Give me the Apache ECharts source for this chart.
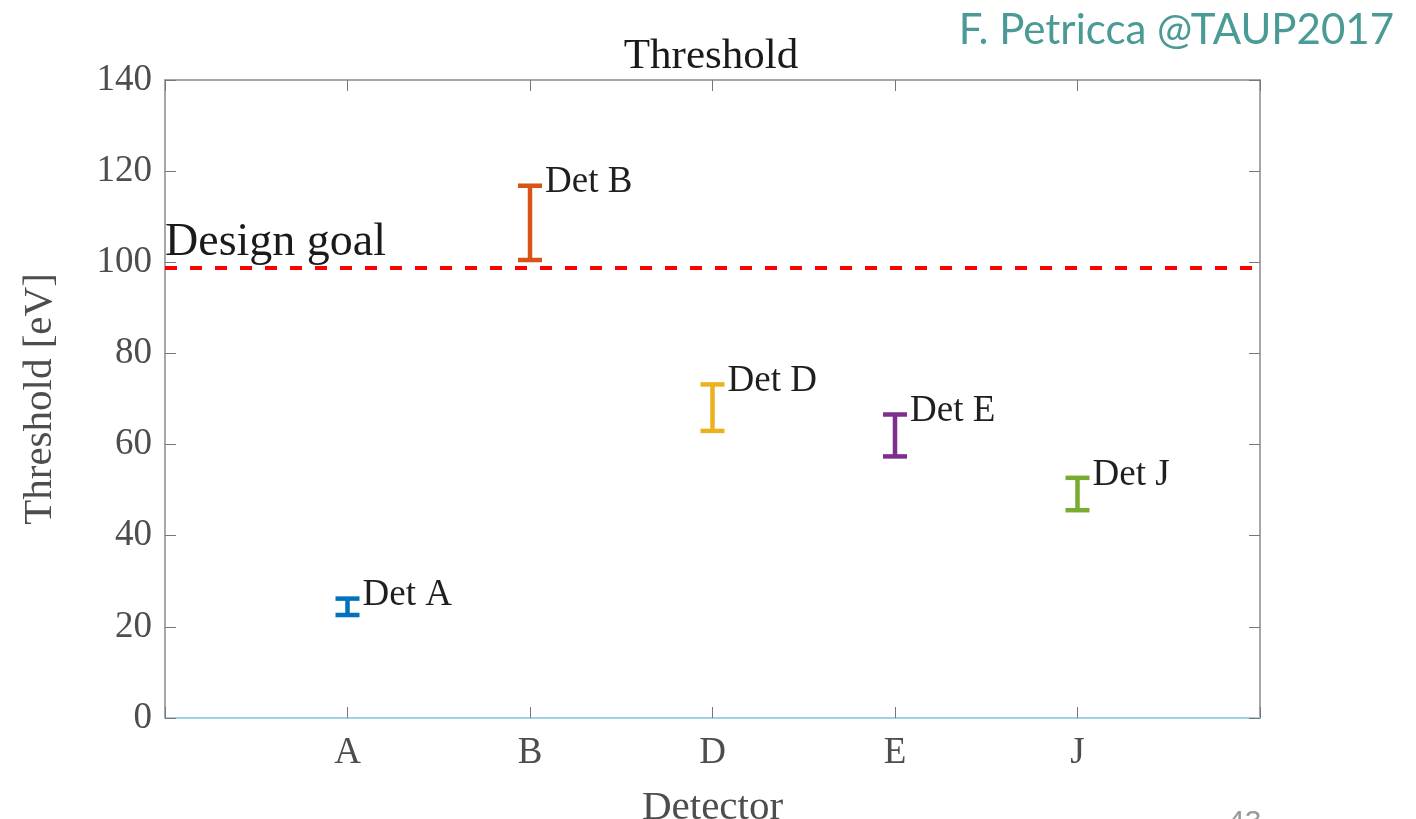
<!DOCTYPE html>
<html>
<head>
<meta charset="utf-8">
<script src="https://cdn.jsdelivr.net/npm/echarts@6/dist/echarts.min.js"></script>
<style>
  html, body { margin: 0; padding: 0; background: #fff; }
  #chart { width: 1416px; height: 819px; }
</style>
</head>
<body>
<div id="chart"></div>
<script>
// Detector threshold ranges (eV)
const detectors = ['A', 'B', 'D', 'E', 'J'];
const thresholdLow = [22.6, 100.5, 63.0, 57.4, 45.6];
const thresholdHigh = [26.2, 116.8, 73.2, 66.6, 52.7];
const detColors = ['#0072BD', '#D95319', '#EDB120', '#7E2F8E', '#77AC30'];
const designGoal = 98.7;
const yTicks = [0, 20, 40, 60, 80, 100, 120, 140];

const serif = '"Liberation Serif", "Times New Roman", serif';
const frame = '#8a8a8a';
const tickStyle = { color: '#777', width: 1 };

const chart = echarts.init(document.getElementById('chart'), null, { renderer: 'canvas' });

const barData = detectors.map((d, i) => [i + 1, thresholdLow[i], thresholdHigh[i], i]);

chart.setOption({
  animation: false,
  backgroundColor: '#ffffff',
  title: {
    text: 'Threshold',
    left: 706, top: 30, textAlign: 'center',
    textStyle: { fontFamily: serif, fontSize: 43, fontWeight: 'normal', color: '#1a1a1a' }
  },
  graphic: [
    {
      type: 'text', right: 22, top: 9,
      style: { text: 'F. Petricca @TAUP2017', font: '42px Lato, "Open Sans", sans-serif', fill: '#4a9a95' }
    },
    {
      type: 'text', left: 1228, top: 808,
      style: { text: '43', font: '30px "Liberation Sans", sans-serif', fill: '#9a9a9a' }
    }
  ],
  grid: { left: 165, top: 80, right: 156, bottom: 101, containLabel: false, outerBoundsMode: 'none' },
  xAxis: [
    {
      type: 'value', min: 0, max: 6, interval: 1, position: 'bottom',
      name: 'Detector', nameLocation: 'middle', nameGap: 70,
      nameTextStyle: { fontFamily: serif, fontSize: 41, color: '#4d4d4d' },
      axisLine: { show: true, onZero: false, lineStyle: { color: '#9dd2ea', width: 2 } },
      axisTick: { show: true, inside: true, length: 11, lineStyle: tickStyle },
      axisLabel: {
        margin: 17, fontFamily: serif, fontSize: 37, color: '#4d4d4d',
        formatter: v => (v >= 1 && v <= detectors.length) ? detectors[v - 1] : ''
      },
      splitLine: { show: false }
    },
    {
      type: 'value', min: 0, max: 6, interval: 1, position: 'top',
      axisLine: { show: true, onZero: false, lineStyle: { color: frame, width: 1.5 } },
      axisTick: { show: true, inside: true, length: 11, lineStyle: tickStyle },
      axisLabel: { show: false },
      splitLine: { show: false }
    }
  ],
  yAxis: [
    {
      type: 'value', min: 0, max: 140, interval: 20, position: 'left',
      name: 'Threshold [eV]', nameLocation: 'middle', nameGap: 104,
      nameTextStyle: { fontFamily: serif, fontSize: 41, color: '#4d4d4d' },
      axisLine: { show: true, onZero: false, lineStyle: { color: frame, width: 1.5 } },
      axisTick: { show: true, inside: true, length: 11, lineStyle: tickStyle },
      axisLabel: {
        margin: 13, fontFamily: serif, fontSize: 37, color: '#4d4d4d',
        formatter: v => yTicks.includes(v) ? String(v) : ''
      },
      splitLine: { show: false }
    },
    {
      type: 'value', min: 0, max: 140, interval: 20, position: 'right',
      axisLine: { show: true, onZero: false, lineStyle: { color: frame, width: 1.5 } },
      axisTick: { show: true, inside: true, length: 11, lineStyle: tickStyle },
      axisLabel: { show: false },
      splitLine: { show: false }
    }
  ],
  series: [
    {
      type: 'custom',
      xAxisIndex: 0, yAxisIndex: 0,
      data: barData,
      encode: { x: 0, y: [1, 2] },
      renderItem: function (params, api) {
        const x = api.value(0);
        const lo = api.coord([x, api.value(1)]);
        const hi = api.coord([x, api.value(2)]);
        const idx = api.value(3);
        const color = detColors[idx];
        const capHalf = 12;
        const st = { stroke: color, lineWidth: 4.5, lineCap: 'butt' };
        return {
          type: 'group',
          children: [
            { type: 'line', shape: { x1: lo[0], y1: lo[1], x2: hi[0], y2: hi[1] }, style: st },
            { type: 'line', shape: { x1: lo[0] - capHalf, y1: lo[1], x2: lo[0] + capHalf, y2: lo[1] }, style: st },
            { type: 'line', shape: { x1: hi[0] - capHalf, y1: hi[1], x2: hi[0] + capHalf, y2: hi[1] }, style: st },
            {
              type: 'text',
              style: {
                x: hi[0] + 15, y: hi[1] - 3,
                text: 'Det ' + detectors[idx],
                font: '37px ' + serif,
                fill: '#1f1f1f',
                textAlign: 'left', textVerticalAlign: 'middle'
              }
            }
          ]
        };
      },
      markLine: {
        silent: true,
        symbol: ['none', 'none'],
        lineStyle: { color: '#ff0000', width: 4, type: [12, 13] },
        label: {
          show: true, position: 'insideStartTop', distance: [0, 2],
          formatter: 'Design goal',
          fontFamily: serif, fontSize: 46, color: '#1a1a1a'
        },
        data: [{ yAxis: designGoal }]
      }
    }
  ]
});
</script>
</body>
</html>
